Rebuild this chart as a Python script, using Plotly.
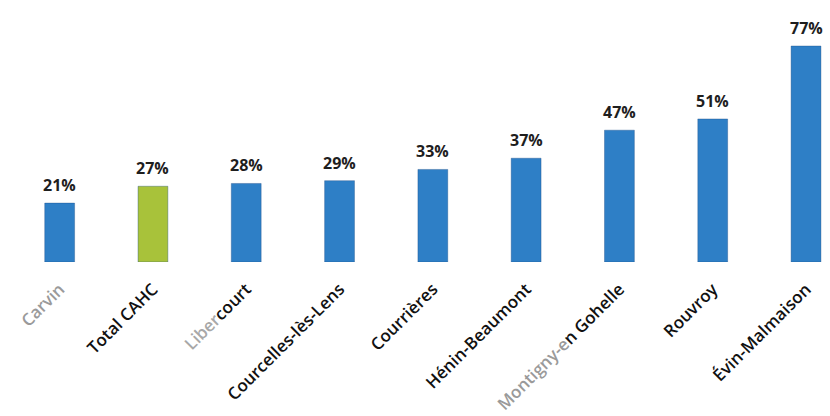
import plotly.graph_objects as go

# Share per commune, sorted ascending, with the agglomeration total highlighted
communes = ["Carvin", "Total CAHC", "Libercourt", "Courcelles-lès-Lens", "Courrières",
            "Hénin-Beaumont", "Montigny-en-Gohelle", "Rouvroy", "Évin-Malmaison"]
values = [21, 27, 28, 29, 33, 37, 47, 51, 77]
tick_labels = [
    '<span style="color:#9a9a9a">Carvin</span>',
    "Total CAHC",
    '<span style="color:#a8a8a8">Liber</span>court',
    "Courcelles-lès-Lens",
    "Courrières",
    "Hénin-Beaumont",
    '<span style="color:#9a9a9a">Montigny-e</span>n Gohelle',
    "Rouvroy",
    "Évin-Malmaison",
]

BLUE = "#2e7fc6"
GREEN = "#a8c23a"
colors = [GREEN if c == "Total CAHC" else BLUE for c in communes]

fig = go.Figure(go.Bar(
    x=communes,
    y=values,
    marker=dict(color=colors, line=dict(color="rgba(20,70,130,0.35)", width=1)),
    hoverinfo="skip",
))

for c, v in zip(communes, values):
    fig.add_annotation(x=c, y=v, text=f"{v}%", showarrow=False,
                       yanchor="bottom", yshift=5,
                       font=dict(family="Open Sans", size=16, color="#1e1e1e", weight="bold"))

fig.update_layout(
    width=830, height=416,
    margin=dict(l=13, r=0, t=0, b=154),
    paper_bgcolor="white", plot_bgcolor="white",
    bargap=0.68,
    showlegend=False,
    xaxis=dict(range=[-0.5, 8.257], tickmode="array", tickvals=communes, ticktext=tick_labels,
               tickangle=-45, showline=False, showgrid=False, ticks="",
               ticklabelstandoff=13,
               tickfont=dict(family="Open Sans", size=17, color="#111111", weight=600)),
    yaxis=dict(range=[0, 93.4], visible=False),
)

fig.write_html("out.html")
